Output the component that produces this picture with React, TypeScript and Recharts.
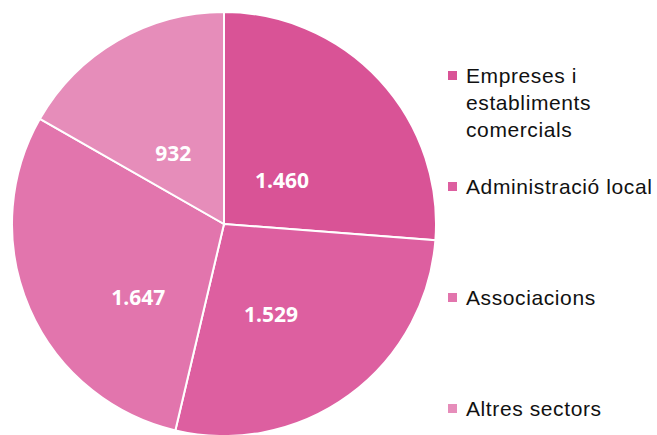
import { PieChart, Pie, Cell, Legend } from "recharts";

const sectors = ["Empreses i establiments comercials", "Administració local", "Associacions", "Altres sectors"];
const counts = [1460, 1529, 1647, 932];
const colors = ["#D95396", "#DD5FA0", "#E275AD", "#E68DBA"];

const data = sectors.map((name, i) => ({ name, value: counts[i] }));

const fmt = (v: number) => v.toLocaleString("de-DE");

// Excel's "best fit" label placement, approximated per slice
const labelPlace = [
  { r: 0.344, shift: -5.6 },
  { r: 0.48, shift: -8.6 },
  { r: 0.53, shift: 16.8 },
  { r: 0.41, shift: 5.6 },
];

const RADIAN = Math.PI / 180;

function renderLabel(props: any) {
  const { cx, cy, midAngle, outerRadius, index, value } = props;
  const p = labelPlace[index];
  const a = (midAngle + p.shift) * RADIAN;
  const r = outerRadius * p.r;
  const x = cx + r * Math.cos(a);
  const y = cy - r * Math.sin(a);
  return (
    <text
      x={x}
      y={y}
      fill="#ffffff"
      textAnchor="middle"
      dominantBaseline="central"
      fontFamily="'Open Sans', sans-serif"
      fontWeight={700}
      fontSize={21}
    >
      {fmt(value)}
    </text>
  );
}

function LegendBox() {
  return (
    <div style={{ position: "relative", width: 217, height: 435 }}>
      {sectors.map((name, i) => (
        <div
          key={name}
          style={{
            position: "absolute",
            left: 0,
            top: 62 + i * 111,
            width: 215,
            display: "flex",
            alignItems: "flex-start",
            fontFamily: "'Liberation Sans', Arial, sans-serif",
            fontSize: 21,
            letterSpacing: 0.6,
            lineHeight: "27px",
            color: "#111",
          }}
        >
          <span
            style={{
              display: "inline-block",
              width: 9,
              height: 9,
              marginTop: 9,
              marginRight: 9,
              background: colors[i],
              flexShrink: 0,
            }}
          />
          <span style={{ width: 195 }}>{name}</span>
        </div>
      ))}
    </div>
  );
}

export default function App() {
  return (
    <div style={{ position: "absolute", left: 0, top: 0, width: 657, height: 435, background: "#fff" }}>
      <PieChart width={657} height={435} margin={{ top: 0, right: 0, bottom: 0, left: 0 }}>
        <Pie
          data={data}
          dataKey="value"
          nameKey="name"
          cx={224}
          cy={224}
          outerRadius={212}
          startAngle={90}
          endAngle={-270}
          stroke="#ffffff"
          strokeWidth={2}
          label={renderLabel}
          labelLine={false}
          isAnimationActive={false}
        >
          {data.map((d, i) => (
            <Cell key={d.name} fill={colors[i]} />
          ))}
        </Pie>
        <Legend
          content={() => <LegendBox />}
          wrapperStyle={{ position: "absolute", left: 448, top: 0, width: 217, height: 435 }}
        />
      </PieChart>
    </div>
  );
}
